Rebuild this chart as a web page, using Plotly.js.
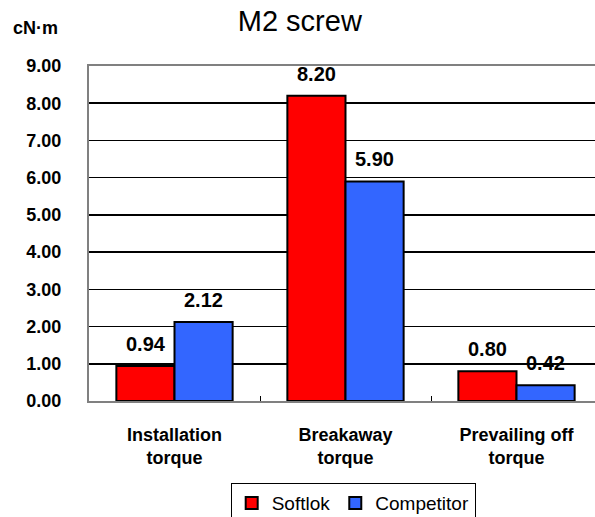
<!DOCTYPE html>
<html>
<head>
<meta charset="utf-8">
<script src="https://cdn.plot.ly/plotly-3.0.1.min.js"></script>
<style>html,body{margin:0;padding:0;background:#fff;overflow:hidden;width:595px;height:517px;}#chart{width:602px;height:517px;}</style>
</head>
<body>
<div id="chart"></div>
<script>
const categories = ["Installation<br>torque", "Breakaway<br>torque", "Prevailing off<br>torque"];
const softlok = [0.94, 8.20, 0.80];
const competitor = [2.12, 5.90, 0.42];
const seriesNames = ["Softlok", "Competitor"];
const seriesColors = ["#ff0000", "#3366ff"];

const FONT = "Liberation Sans, Arial, sans-serif";
const tickFont = {family: FONT, size: 18, color: "#000", weight: "bold"};
const valueFont = {family: FONT, size: 20, color: "#000", weight: "bold"};

const traces = [softlok, competitor].map((vals, i) => ({
  type: "bar", name: seriesNames[i], x: categories, y: vals,
  marker: {color: seriesColors[i], line: {color: "#000", width: 2}},
  hoverinfo: "none"
}));

const annotations = [];
[softlok, competitor].forEach((vals, i) => {
  vals.forEach((v, j) => {
    annotations.push({
      x: categories[j], y: v, xref: "x", yref: "y", text: v.toFixed(2),
      showarrow: false, xanchor: "center", yanchor: "bottom",
      xshift: i === 0 ? -29 : 29, yshift: 9, font: valueFont
    });
  });
});
annotations.push({text: "cN·m", xref: "paper", yref: "paper", x: -0.105, y: 1.113,
  xanchor: "center", yanchor: "middle", showarrow: false, font: tickFont});

const layout = {
  width: 602, height: 517,
  margin: {l: 89, r: 0, t: 66, b: 116, autoexpand: false},
  paper_bgcolor: "#fff", plot_bgcolor: "#fff",
  barmode: "group", bargap: 0.32, bargroupgap: 0,
  font: {family: FONT, color: "#000"},
  title: {text: "M2 screw", font: {family: FONT, size: 29, color: "#000"}, xref: "container", x: 0.498, xanchor: "center", yref: "container", y: 0.959, yanchor: "middle"},
  xaxis: {
    type: "category", automargin: false, showgrid: false, showline: true, linecolor: "#808080", linewidth: 2, mirror: true,
    ticks: "inside", tickson: "boundaries", ticklen: 5, tickcolor: "#000", tickwidth: 1, tickangle: 0,
    tickfont: tickFont, ticklabelstandoff: 16, zeroline: false
  },
  yaxis: {
    range: [0, 9], dtick: 1, tickformat: ".2f", automargin: false, showgrid: true, gridcolor: "#000", gridwidth: 1.5,
    showline: true, linecolor: "#808080", linewidth: 2, ticks: "", zeroline: false,
    tickfont: tickFont, ticklabelstandoff: 22
  },
  legend: {
    orientation: "h", x: 0.515, xanchor: "center", y: -0.245, yanchor: "top",
    bordercolor: "#000", borderwidth: 1, font: {family: FONT, size: 19, color: "#000"}, bgcolor: "#fff",
    traceorder: "normal"
  },
  annotations: annotations,
  showlegend: true
};

Plotly.newPlot("chart", traces, layout, {displayModeBar: false, staticPlot: true});
</script>
</body>
</html>
